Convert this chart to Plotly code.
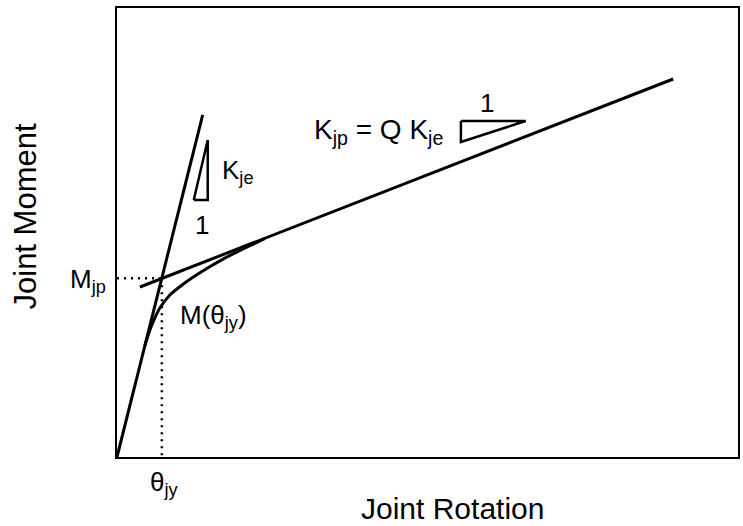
import plotly.graph_objects as go

# Elastic branch: initial stiffness K_je from the origin
elastic_theta = [0.0, 13.8]
elastic_moment = [0.0, 76.2]

# Plastic branch: post-yield stiffness K_jp = Q K_je
plastic_theta = [3.69, 89.57]
plastic_moment = [37.86, 84.19]

# Smooth nonlinear moment-rotation response M(theta)
curve_theta = [4.49, 5.30, 6.10, 6.90, 8.51, 10.59, 12.84, 14.93, 17.01, 19.26, 21.67, 23.76]
curve_moment = [24.83, 28.29, 30.96, 33.18, 36.08, 38.42, 40.58, 42.38, 44.03, 45.63, 47.24, 48.64]

# Yield point: intersection of the two branches
theta_jy = 7.22
m_jp = 39.8

# Slope triangles for the two stiffnesses
tri_e_theta = [12.36, 14.61, 14.61, 12.36]
tri_e_moment = [57.24, 57.24, 70.60, 57.24]
tri_p_theta = [55.38, 65.81, 55.38, 55.38]
tri_p_moment = [74.83, 74.83, 70.16, 74.83]

FONT = "Liberation Sans, Arial, sans-serif"
BLACK = "#000000"

fig = go.Figure()

solid = dict(color=BLACK, width=3)
fig.add_trace(go.Scatter(x=elastic_theta, y=elastic_moment, mode="lines", line=solid))
fig.add_trace(go.Scatter(x=plastic_theta, y=plastic_moment, mode="lines", line=solid))
fig.add_trace(go.Scatter(x=curve_theta, y=curve_moment, mode="lines",
                         line=dict(color=BLACK, width=3, shape="spline", smoothing=0.8)))

dotted = dict(color=BLACK, width=2.5, dash="2px,5px")
fig.add_trace(go.Scatter(x=[0, theta_jy], y=[m_jp, m_jp], mode="lines", line=dotted))
fig.add_trace(go.Scatter(x=[theta_jy, theta_jy], y=[m_jp, 0], mode="lines", line=dotted))

thin = dict(color=BLACK, width=2.5)
fig.add_trace(go.Scatter(x=tri_e_theta, y=tri_e_moment, mode="lines", line=thin))
fig.add_trace(go.Scatter(x=tri_p_theta, y=tri_p_moment, mode="lines", line=thin))


def label(text, x, y, size=26, xanchor="left", yanchor="middle", xref="x", yref="y", angle=0):
    fig.add_annotation(text=text, x=x, y=y, xref=xref, yref=yref, showarrow=False,
                       xanchor=xanchor, yanchor=yanchor, textangle=angle,
                       font=dict(family=FONT, size=size, color=BLACK))


label("K<sub>jp</sub> = Q K<sub>je</sub>", 31.4, 72.6, size=28)
label("1", 59.55, 78.8, size=26, xanchor="center")
label("K<sub>je</sub>", 16.6, 63.5, size=26)
label("1", 13.64, 51.7, size=26, xanchor="center")
label("M(θ<sub>jy</sub>)", 9.9, 31.4, size=26)
label("M<sub>jp</sub>", -0.015, 39.2, size=26, xanchor="right", xref="paper")
label("θ<sub>jy</sub>", 7.7, -0.018, size=26, xanchor="center", yanchor="top", yref="paper")
label("Joint Rotation", 0.541, -0.115, size=30, xanchor="center", xref="paper", yref="paper")
label("Joint Moment", -0.147, 0.535, size=31, xanchor="center", xref="paper", yref="paper", angle=-90)

axis = dict(range=[0, 100], showgrid=False, zeroline=False, showticklabels=False,
            ticks="", showline=True, linecolor=BLACK, linewidth=2, mirror=True, fixedrange=True)

fig.update_layout(
    width=743, height=526,
    margin=dict(l=117, r=3, t=8, b=69),
    paper_bgcolor="white", plot_bgcolor="white",
    showlegend=False,
    xaxis=axis, yaxis=axis,
)

fig.write_html("out.html", config={"displayModeBar": False})
